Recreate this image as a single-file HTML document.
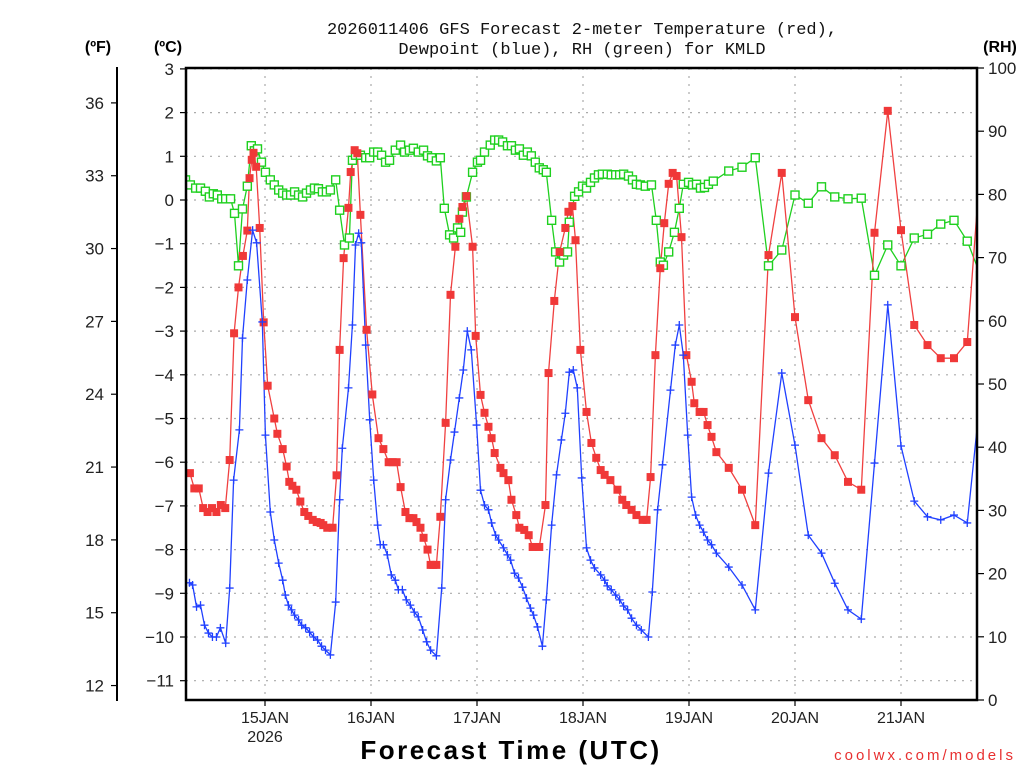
<!DOCTYPE html>
<html><head><meta charset="utf-8"><style>
body{margin:0;background:#fff;width:1024px;height:768px;overflow:hidden;font-family:"Liberation Sans",sans-serif}
svg text{font-family:"Liberation Sans",sans-serif}
</style></head><body>
<svg id="chart" width="1024" height="768" xmlns="http://www.w3.org/2000/svg">
<defs><clipPath id="plotclip"><rect x="186" y="68" width="791" height="632"/></clipPath></defs>
<text x="582" y="34" text-anchor="middle" font-size="17" fill="#111" style="font-family:'Liberation Mono',monospace">2026011406 GFS Forecast 2-meter Temperature (red),</text>
<text x="582" y="54" text-anchor="middle" font-size="17" fill="#111" style="font-family:'Liberation Mono',monospace">Dewpoint (blue), RH (green) for KMLD</text>
<text x="98" y="52" text-anchor="middle" font-size="16" font-weight="bold">(ºF)</text>
<text x="168" y="52" text-anchor="middle" font-size="16" font-weight="bold">(ºC)</text>
<text x="1000" y="52" text-anchor="middle" font-size="16" font-weight="bold">(RH)</text>
<text x="511" y="759" text-anchor="middle" font-size="26" font-weight="bold" letter-spacing="2.5">Forecast Time (UTC)</text>
<text x="1016" y="760" text-anchor="end" font-size="15" fill="#e83030" letter-spacing="3">coolwx.com/models</text>
<g id="grid"></g><g id="series" clip-path="url(#plotclip)"></g><g id="axes"></g>
</svg>
<script>
// Data (hours since 2026-01-14 06Z)
const tempHours=[1,2,3,4,5,6,7,8,9,10,11,12,13,14,14.5,15,15.4,16,16.8,17.7,18.6,20.1,20.8,22,22.9,23.5,24.2,25.1,26,26.9,27.8,28.8,29.7,30.6,31.2,32.1,33.3,34.2,34.9,35.8,36.9,37.4,38.3,38.9,39.6,41,42.3,43.7,44.8,46,46.9,47.8,48.7,49.8,50.7,51.6,52.3,53.2,53.9,54.8,55.5,56.1,56.8,57.7,58.9,60,61.1,62,62.7,63.6,65,65.7,66.8,67.7,68.6,69.3,70,71.3,72,73.1,73.8,74.9,75.6,76.7,77.7,78.6,80.1,81.5,82.2,83.5,84.7,86,86.7,87.6,88.3,89.4,90.8,91.9,93,94,94.9,96.2,97.8,98.9,99.8,101,102.1,103.5,104.4,105.3,106.4,107.5,108.4,109.4,110.3,111.2,112.3,113.4,114.6,115.2,116.4,117.3,118.2,119.1,120.2,123,126,129,132,135,138,141,144,147,150,153,156,159,162,165,168,171,174,177,180];
const tempC=[-6.25,-6.6,-6.6,-7.05,-7.14,-7.05,-7.14,-6.98,-7.05,-5.95,-3.05,-2.0,-1.28,-0.7,0.5,0.92,1.08,0.76,-0.64,-2.8,-4.25,-5.0,-5.35,-5.7,-6.1,-6.45,-6.54,-6.63,-6.9,-7.14,-7.23,-7.32,-7.37,-7.39,-7.44,-7.5,-7.5,-6.3,-3.43,-1.33,-0.18,0.64,1.14,1.07,-0.34,-2.97,-4.45,-5.45,-5.7,-6.0,-6.0,-6.0,-6.57,-7.14,-7.28,-7.28,-7.37,-7.5,-7.73,-8.0,-8.35,-8.35,-8.35,-7.25,-5.1,-2.17,-1.07,-0.43,-0.16,0.09,-1.07,-3.11,-4.46,-4.87,-5.19,-5.45,-5.79,-6.13,-6.25,-6.41,-6.86,-7.21,-7.5,-7.55,-7.67,-7.94,-7.94,-6.98,-3.96,-2.31,-1.19,-0.64,-0.27,-0.14,-0.92,-3.43,-4.85,-5.56,-5.9,-6.18,-6.29,-6.41,-6.63,-6.86,-6.98,-7.09,-7.21,-7.32,-7.32,-6.34,-3.55,-1.56,-0.53,0.37,0.62,0.55,-0.85,-3.55,-4.16,-4.65,-4.85,-4.85,-5.15,-5.42,-5.77,-6.13,-6.63,-7.44,-1.26,0.62,-2.68,-4.58,-5.45,-5.84,-6.45,-6.63,-0.75,2.04,-0.69,-2.86,-3.32,-3.62,-3.62,-3.25,0.85];
const dewHours=[0.9,1.6,2.5,3.4,4.3,5.2,6.1,7,7.9,9.1,10,10.9,12.2,12.9,14,15.2,16.1,17.4,18.1,19.2,20.1,21.1,22,22.6,23.3,24,24.7,25.6,26.3,27.2,28.1,29,29.9,30.8,31.7,32.8,34,34.9,35.5,36.9,37.8,38.5,39.2,39.8,40.8,41.7,42.6,43.5,44.1,44.8,45.7,46.6,47.5,48.2,49.1,50,50.9,51.8,52.7,53.7,54.6,55.5,56.8,58,58.9,60,60.9,62,62.9,63.8,64.7,65.9,66.8,67.7,68.6,69.3,70.2,70.9,72,72.9,73.6,74.5,75.4,76.3,77.2,78.1,78.8,79.7,80.8,81.7,82.9,84,85.1,86,86.9,87.8,88.7,89.7,90.8,91.7,92.6,94,94.9,95.5,96.4,97.4,98.3,99.2,100.1,101,102.1,103.2,104.8,105.7,106.9,108,109.8,110.9,111.8,112.7,113.7,114.6,115.5,116.4,117.3,118.2,119.1,120.2,123,126,129,132,135,138,141,144,147,150,153,156,159,162,165,168,171,174,177,180];
const dewC=[-8.76,-8.81,-9.31,-9.27,-9.73,-9.91,-10.0,-10.0,-9.79,-10.14,-8.88,-6.41,-5.26,-3.16,-1.83,-0.69,-0.98,-2.79,-5.38,-7.14,-7.78,-8.31,-8.7,-9.04,-9.27,-9.38,-9.5,-9.61,-9.73,-9.79,-9.89,-10.0,-10.07,-10.21,-10.3,-10.41,-9.2,-6.86,-5.68,-4.3,-2.86,-1.03,-0.76,-0.98,-3.32,-5.03,-6.41,-7.44,-7.89,-7.89,-8.12,-8.58,-8.7,-8.92,-8.92,-9.15,-9.27,-9.43,-9.54,-9.84,-10.11,-10.3,-10.43,-8.88,-6.86,-5.95,-5.31,-4.53,-3.89,-3.0,-3.43,-5.15,-6.64,-6.98,-7.09,-7.39,-7.67,-7.78,-7.96,-8.12,-8.24,-8.54,-8.65,-8.86,-9.11,-9.34,-9.5,-9.77,-10.21,-9.15,-7.44,-6.29,-5.49,-4.88,-3.94,-3.89,-4.3,-6.36,-7.96,-8.24,-8.42,-8.58,-8.7,-8.83,-8.92,-9.04,-9.15,-9.29,-9.38,-9.57,-9.73,-9.84,-10.0,-8.97,-7.09,-6.06,-4.35,-3.32,-2.86,-3.55,-5.38,-6.8,-7.21,-7.44,-7.6,-7.78,-7.89,-8.08,-8.4,-8.81,-9.38,-6.25,-3.96,-5.61,-7.67,-8.08,-8.77,-9.38,-9.59,-6.02,-2.4,-5.63,-6.89,-7.25,-7.32,-7.21,-7.39,-4.46];
const rhHours=[0,1.1,2.3,3.4,4.5,5.4,6.3,7.2,8.2,9.1,10.2,11.1,12,12.9,14,14.9,15.6,16.3,17.2,18.1,19.2,20.1,21.1,22,22.9,23.8,24.7,25.6,26.5,27.4,28.3,29.2,30.1,31,31.9,32.8,34,34.9,36,37.1,37.8,38.5,39.6,40.8,41.7,42.6,43.5,44.4,45.3,46.2,47.5,48.7,49.6,50.7,51.6,52.7,53.9,54.8,55.7,56.8,57.7,58.6,59.8,60.7,61.6,62.3,62.7,63.6,65,66.1,66.8,67.7,69,70,70.9,71.8,72.9,73.8,74.7,75.6,76.5,77.4,78.3,79.2,80.1,81,81.7,82.9,83.8,84.7,85.6,86.5,86.9,88.1,89,89.9,90.8,91.7,92.6,93.5,94.4,95.5,96.4,97.4,98.3,99.2,100.3,101.2,102.1,103,104.1,105.5,106.6,107.5,108.2,109.4,110.7,111.8,112.7,113.9,114.8,115.7,116.6,117.5,118.4,119.5,123,126,129,132,135,138,141,144,147,150,153,156,159,162,165,168,171,174,177,180];
const rhPct=[82.3,81.5,81.0,81.0,80.5,79.6,80.1,79.9,79.3,79.3,79.3,77.0,68.7,77.7,81.3,87.7,86.9,87.2,85.1,83.5,82.3,81.5,80.7,80.2,79.9,79.9,80.4,79.9,79.6,80.2,80.7,81.0,80.9,80.4,80.4,80.7,82.3,77.5,72.0,73.1,85.4,86.2,86.2,85.8,85.8,86.7,86.7,86.2,85.1,85.4,87.0,87.8,86.7,87.0,87.3,86.7,87.0,86.1,85.8,85.3,85.8,77.8,73.6,73.1,74.7,74.0,77.2,79.6,83.5,85.1,85.4,86.7,87.8,88.6,88.6,88.3,87.7,87.7,87.0,87.2,86.2,86.7,86.1,85.1,84.2,83.9,83.5,75.9,70.9,69.3,70.4,70.9,75.6,79.7,80.4,81.3,81.0,81.9,82.6,83.1,83.2,83.2,83.1,83.1,83.1,83.2,82.9,82.3,81.6,81.5,81.3,81.5,75.9,69.3,68.8,70.9,74.0,77.8,81.6,81.9,81.5,81.6,81.0,81.1,81.6,82.1,83.7,84.3,85.8,68.7,71.2,79.9,78.6,81.2,79.6,79.3,79.4,67.2,72.0,68.7,73.1,73.7,75.3,75.9,72.6,67.2];
const dayLabels=["15JAN","16JAN","17JAN","18JAN","19JAN","20JAN","21JAN"];
const dayHours=[18,42,66,90,114,138,162];
const cTicks=[3,2,1,0,-1,-2,-3,-4,-5,-6,-7,-8,-9,-10,-11];
const fTicks=[36,33,30,27,24,21,18,15,12];
const rhTicks=[100,90,80,70,60,50,40,30,20,10,0];

const NS="http://www.w3.org/2000/svg";
const L=186,R=977,T=68,B=700;
const xs=h=>265+(h-18)*106/24;
const yc=c=>200-c*43.7;
const yf=f=>yc((f-32)/1.8);
const yr=r=>B-r*(B-T)/100;
function mk(tag,attrs,parent){const e=document.createElementNS(NS,tag);for(const k in attrs)e.setAttribute(k,attrs[k]);parent.appendChild(e);return e;}
const grid=document.getElementById('grid'),ser=document.getElementById('series'),ax=document.getElementById('axes');

cTicks.forEach(c=>{
  const g=mk('line',{x1:L,x2:R,y1:yc(c),y2:yc(c),stroke:'#aaa','stroke-dasharray':'2 6','stroke-width':1.2},grid);
  
  
  const t=mk('line',{x1:L-6,x2:L,y1:yc(c),y2:yc(c),stroke:'#000','stroke-width':1.2},ax);
  
  
  const tx=mk('text',{x:L-12,y:yc(c)+6,'text-anchor':'end','font-size':17,fill:'#222'},ax);
  tx.textContent=(c<0?'\u2212':'')+Math.abs(c);
  
  
});
dayHours.forEach((h,i)=>{
  const g=mk('line',{x1:xs(h),x2:xs(h),y1:T,y2:B,stroke:'#aaa','stroke-dasharray':'2 6','stroke-width':1.2},grid);
  
  
  const t=mk('line',{x1:xs(h),x2:xs(h),y1:B,y2:B+6,stroke:'#000','stroke-width':1.2},ax);
  
  
  const tx=mk('text',{x:xs(h),y:B+23,'text-anchor':'middle','font-size':16,fill:'#222'},ax);
  tx.textContent=dayLabels[i];
  
  
});
const yl=mk('text',{x:xs(18),y:B+42,'text-anchor':'middle','font-size':16,fill:'#222'},ax);
yl.textContent='2026';



fTicks.forEach(f=>{
  const t=mk('line',{x1:111,x2:117,y1:yf(f),y2:yf(f),stroke:'#000','stroke-width':1.2},ax);
  
  
  const tx=mk('text',{x:104,y:yf(f)+6,'text-anchor':'end','font-size':17,fill:'#222'},ax);
  tx.textContent=f;
  
  
});
const fl=mk('line',{x1:117,x2:117,y1:67,y2:701,stroke:'#000','stroke-width':2},ax);


rhTicks.forEach(r=>{
  const t=mk('line',{x1:R,x2:R+7,y1:yr(r),y2:yr(r),stroke:'#000','stroke-width':1.2},ax);
  
  
  const tx=mk('text',{x:R+11,y:yr(r)+6,'text-anchor':'start','font-size':17,fill:'#222'},ax);
  tx.textContent=r;
  
  
});
const frame=mk('path',{d:`M${L},${T}H${R}V${B}H${L}Z`,fill:'none',stroke:'#000','stroke-width':2.5},ax);



function line(hours,vals,yfn,color,name){
  const pts=hours.map((h,i)=>xs(h).toFixed(1)+','+yfn(vals[i]).toFixed(1)).join(' ');
  const p=mk('polyline',{points:pts,fill:'none',stroke:color,'stroke-width':1.3},ser);
  
  
}
line(rhHours,rhPct,yr,'#1fd01f','rh');
line(tempHours,tempC,yc,'#f04040','temperature');
line(dewHours,dewC,yc,'#2040ff','dewpoint');
rhHours.forEach((h,i)=>{
  const m=mk('rect',{x:xs(h)-4,y:yr(rhPct[i])-4,width:8,height:8,fill:'#fff',stroke:'#1fd01f','stroke-width':1.4},ser);
  
  
});
tempHours.forEach((h,i)=>{
  const m=mk('rect',{x:xs(h)-4,y:yc(tempC[i])-4,width:8,height:8,fill:'#f03838'},ser);
  
  
});
dewHours.forEach((h,i)=>{
  const x=xs(h),y=yc(dewC[i]);
  const m=mk('path',{d:`M${x-4},${y}H${x+4}M${x},${y-4}V${y+4}`,stroke:'#2040ff','stroke-width':1.3},ser);
  
  
});
</script>
</body></html>
